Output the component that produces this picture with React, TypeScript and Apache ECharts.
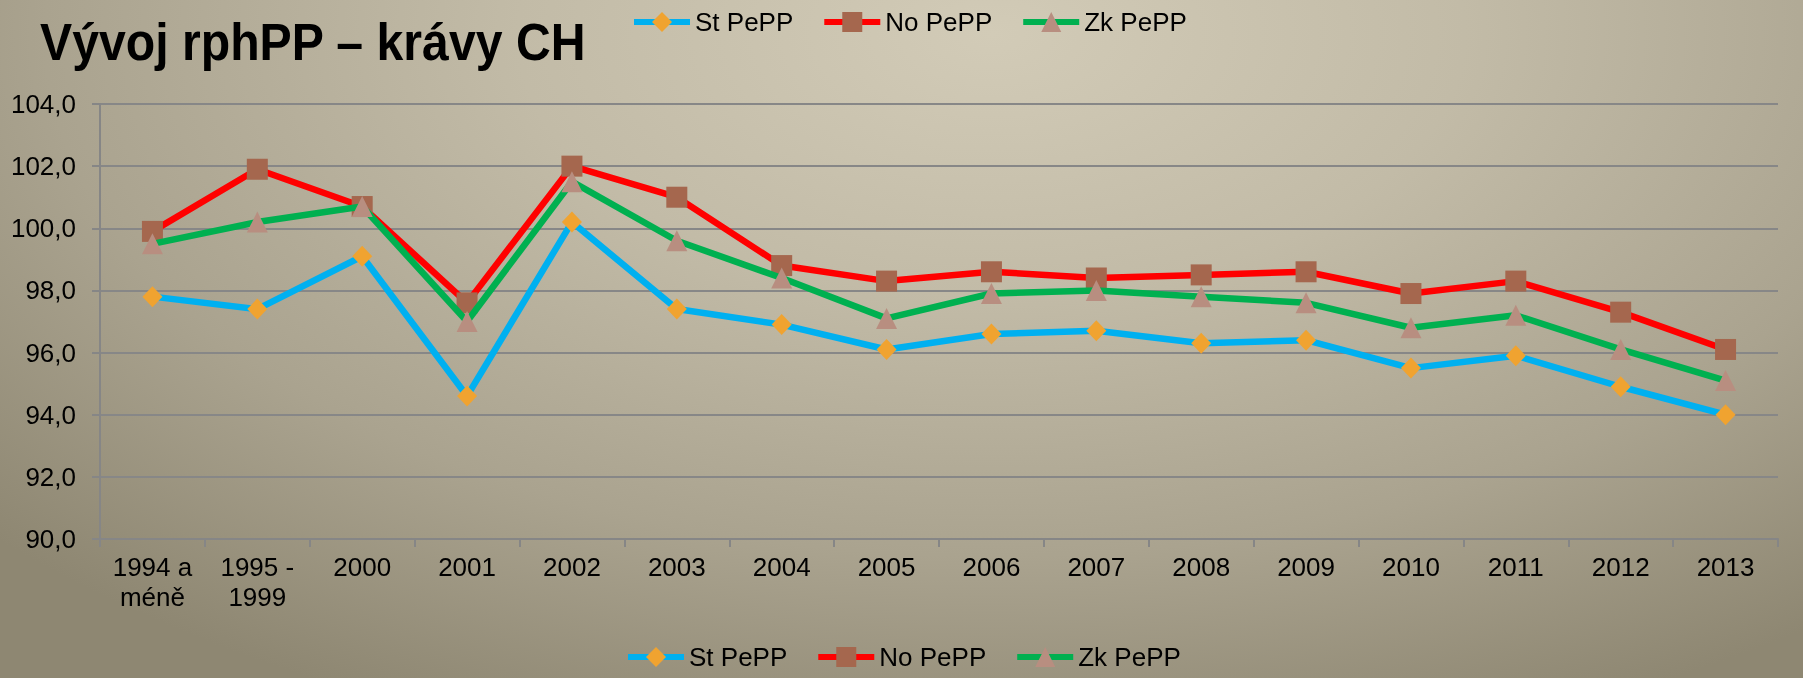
import React, { useEffect, useRef } from "react";
import * as echarts from "echarts";

const categories = [
  "1994 a\nméně", "1995 -\n1999", "2000", "2001", "2002", "2003", "2004", "2005",
  "2006", "2007", "2008", "2009", "2010", "2011", "2012", "2013",
];
const stPePP = [97.8, 97.4, 99.1, 94.6, 100.2, 97.4, 96.9, 96.1, 96.6, 96.7, 96.3, 96.4, 95.5, 95.9, 94.9, 94.0];
const noPePP = [99.9, 101.9, 100.7, 97.6, 102.0, 101.0, 98.8, 98.3, 98.6, 98.4, 98.5, 98.6, 97.9, 98.3, 97.3, 96.1];
const zkPePP = [99.5, 100.2, 100.7, 97.0, 101.5, 99.6, 98.4, 97.1, 97.9, 98.0, 97.8, 97.6, 96.8, 97.2, 96.1, 95.1];
const seriesNames = ["St PePP", "No PePP", "Zk PePP"];
const titleText = "Vývoj rphPP – krávy CH";

const FONT = "'Liberation Sans', Arial, sans-serif";

export default function App() {
  const ref = useRef<HTMLDivElement>(null);
  useEffect(() => {
    if (!ref.current) return;
    const chart = echarts.init(ref.current, undefined, { renderer: "svg" });
    const legendBase = {
      data: seriesNames,
      orient: "horizontal",
      padding: 0,
      itemWidth: 56,
      itemHeight: 25,
      itemGap: 28,
      lineStyle: { width: 6 },
      textStyle: { fontFamily: FONT, fontSize: 26, color: "#000" },
    };
    chart.setOption({
      animation: false,
      backgroundColor: "transparent",
      graphic: [
        {
          type: "text",
          x: 40,
          y: 43,
          scaleX: 0.945,
          scaleY: 1,
          style: {
            text: titleText,
            fontFamily: FONT,
            fontSize: 51,
            fontWeight: "bold",
            fill: "#000",
            verticalAlign: "middle",
          },
        },
      ],
      legend: [
        { ...legendBase, left: 631, top: 9 },
        { ...legendBase, left: 625, top: 644 },
      ],
      grid: { left: 100, right: 25, top: 104, bottom: 139, containLabel: false },
      xAxis: {
        type: "category",
        data: categories,
        boundaryGap: true,
        axisLine: { show: true, lineStyle: { color: "#868686", width: 2 } },
        axisTick: { show: true, length: 8, interval: 0, lineStyle: { color: "#868686", width: 2 } },
        axisLabel: {
          interval: 0,
          margin: 13,
          fontFamily: FONT,
          fontSize: 26,
          lineHeight: 30,
          color: "#000",
        },
        splitLine: { show: false },
      },
      yAxis: {
        type: "value",
        min: 90,
        max: 104,
        interval: 2,
        axisLine: { show: true, lineStyle: { color: "#868686", width: 2 } },
        axisTick: { show: true, length: 8, lineStyle: { color: "#868686", width: 2 } },
        axisLabel: {
          margin: 24,
          fontFamily: FONT,
          fontSize: 26,
          color: "#000",
          formatter: (v: number) => v.toFixed(1).replace(".", ","),
        },
        splitLine: { show: true, lineStyle: { color: "#878787", width: 2 } },
      },
      series: [
        {
          name: seriesNames[0],
          type: "line",
          data: stPePP,
          symbol: "diamond",
          symbolSize: [20, 21],
          lineStyle: { color: "#00B0F0", width: 6.5 },
          itemStyle: { color: "#F0A330" },
          z: 2,
        },
        {
          name: seriesNames[1],
          type: "line",
          data: noPePP,
          symbol: "rect",
          symbolSize: 21,
          lineStyle: { color: "#FF0000", width: 6.5 },
          itemStyle: { color: "#A5674E" },
          z: 3,
        },
        {
          name: seriesNames[2],
          type: "line",
          data: zkPePP,
          symbol: "triangle",
          symbolSize: 21,
          lineStyle: { color: "#00B050", width: 6.5 },
          itemStyle: { color: "#B88E80" },
          z: 4,
        },
      ],
    });
    return () => chart.dispose();
  }, []);
  return (
    <div
      ref={ref}
      style={{
        position: "fixed",
        left: 0,
        top: 0,
        width: 1803,
        height: 678,
        background:
          "radial-gradient(ellipse 75% 110% at 55% 5%, #d2cbb7 0%, #c2bba7 35%, #aaa38f 70%, #8e8772 100%)",
      }}
    />
  );
}
